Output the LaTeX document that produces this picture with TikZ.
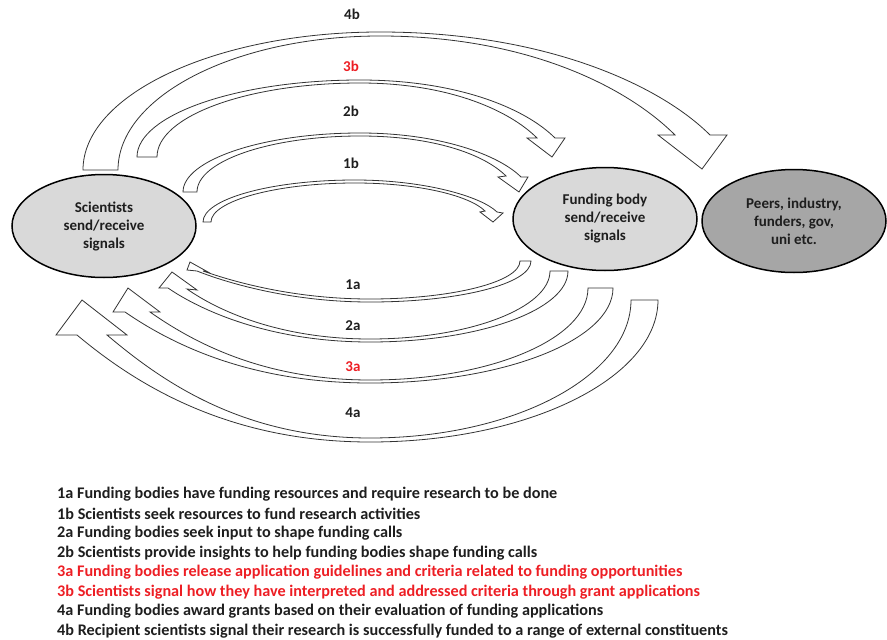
\documentclass[tikz,border=0pt]{standalone}
\usepackage{fontspec}
\setmainfont{Carlito}
\usetikzlibrary{shapes.geometric}

\definecolor{sigred}{RGB}{237,30,36}
\definecolor{bodygray}{RGB}{217,217,217}
\definecolor{peergray}{RGB}{166,166,166}
\definecolor{inkgray}{RGB}{30,30,30}

\tikzset{
  party/.style={ellipse, draw=black, line width=1.5pt, minimum width=184pt,
    minimum height=103pt, inner sep=0pt, align=center, text=inkgray,
    font=\bfseries\fontsize{15}{18}\selectfont},
  band/.style={draw=black!80, fill=white, line width=0.8pt, line join=miter},
  tag/.style={inner sep=0pt, text=inkgray, font=\bfseries\fontsize{15}{18}\selectfont},
  legend/.style={anchor=west, inner sep=0pt, text=inkgray,
    font=\bfseries\fontsize{16.2}{19}\selectfont}
}

\begin{document}
\begin{tikzpicture}[x=1pt, y=-1pt]
	\useasboundingbox (0,0) rectangle (887,640);

	% Parties
	\node[party, fill=bodygray] (sci) at (104,226) {Scientists\\send/receive\\signals};
	\node[party, fill=bodygray] (fund) at (605,219) {Funding body\\send/receive\\signals};
	\node[party, fill=peergray] (peer) at (794,221) {Peers, industry,\\funders, gov,\\uni etc.};

	% Upper arrows (scientists to others)
	\draw[band] (83,170) .. controls (83,94) and (217,32) .. (380,32)
		.. controls (545,32) and (660,85) .. (710,135)
		-- (727,135) -- (702,169) -- (658,135) -- (675,135)
		.. controls (627,87) and (527,36) .. (380,36)
		.. controls (236,36) and (118,96) .. (118,170) -- cycle;
	\draw[band] (137,157) .. controls (137,115) and (237,80) .. (360,80)
		.. controls (457,80) and (525,108) .. (555,138)
		-- (565,138) -- (552,157) -- (527,138) -- (537,138)
		.. controls (509,110) and (448,83) .. (360,83)
		.. controls (248,83) and (157,116) .. (157,157) -- cycle;
	\draw[band] (183,192) .. controls (183,160) and (263,133) .. (360,133)
		.. controls (440,133) and (499,155) .. (521,177)
		-- (528,177) -- (519,192) -- (498,177) -- (506,176)
		.. controls (484,154) and (433,136) .. (360,136)
		.. controls (270,136) and (197,161) .. (197,192) -- cycle;
	\draw[band] (203,222) .. controls (203,199) and (271,180) .. (355,180)
		.. controls (426,180) and (482,197) .. (497,212)
		-- (503,213) -- (493,222) -- (480,212) -- (485,211)
		.. controls (470,196) and (420,183) .. (355,183)
		.. controls (276,183) and (211,201) .. (211,222) -- cycle;

	% Lower arrows (funding body to scientists)
	\draw[band] (520,261) .. controls (520,282) and (452,299) .. (370,299)
		.. controls (286,299) and (223,278) .. (203,271)
		-- (208,272) -- (190,262) -- (187,270) -- (197,271)
		.. controls (217,279) and (283,302) .. (370,302)
		.. controls (459,302) and (531,284) .. (531,261) -- cycle;
	\draw[band] (550,271) .. controls (550,308) and (469,339) .. (370,339)
		.. controls (278,339) and (217,310) .. (187,289)
		-- (197,290) -- (172,272) -- (159,288) -- (168,288)
		.. controls (200,310) and (269,342) .. (370,342)
		.. controls (479,342) and (568,310) .. (568,271) -- cycle;
	\draw[band] (588,288) .. controls (588,339) and (490,380) .. (370,380)
		.. controls (260,380) and (190,340) .. (150,312)
		-- (160,312) -- (128,288) -- (113,312) -- (125,312)
		.. controls (170,343) and (248,383) .. (370,383)
		.. controls (504,383) and (613,340) .. (613,288) -- cycle;
	\draw[band] (631,300) .. controls (631,376) and (514,438) .. (370,438)
		.. controls (238,438) and (157,377) .. (107,335)
		-- (127,335) -- (82,300) -- (56,335) -- (77,335)
		.. controls (132,381) and (224,442) .. (370,442)
		.. controls (528,442) and (658,378) .. (658,300) -- cycle;

	% Arrow labels
	\node[tag] (t4b) at (352,14) {4b};
	\node[tag, text=sigred] (t3b) at (351,66) {3b};
	\node[tag] (t2b) at (351,111) {2b};
	\node[tag] (t1b) at (351,163) {1b};
	\node[tag] (t1a) at (353,285) {1a};
	\node[tag] (t2a) at (353,326) {2a};
	\node[tag, text=sigred] (t3a) at (353,367) {3a};
	\node[tag] (t4a) at (353,413) {4a};

	% Key
	\node[legend] (k1a) at (57,494) {1a Funding bodies have funding resources and require research to be done};
	\node[legend] (k1b) at (57,513.6) {1b Scientists seek resources to fund research activities};
	\node[legend] (k2a) at (57,533.2) {2a Funding bodies seek input to shape funding calls};
	\node[legend] (k2b) at (57,552.8) {2b Scientists provide insights to help funding bodies shape funding calls};
	\node[legend, text=sigred] (k3a) at (57,572.4) {3a Funding bodies release application guidelines and criteria related to funding opportunities};
	\node[legend, text=sigred] (k3b) at (57,592) {3b Scientists signal how they have interpreted and addressed criteria through grant applications};
	\node[legend] (k4a) at (57,611.6) {4a Funding bodies award grants based on their evaluation of funding applications};
	\node[legend] (k4b) at (57,631.2) {4b Recipient scientists signal their research is successfully funded to a range of external constituents};
\end{tikzpicture}
\end{document}
